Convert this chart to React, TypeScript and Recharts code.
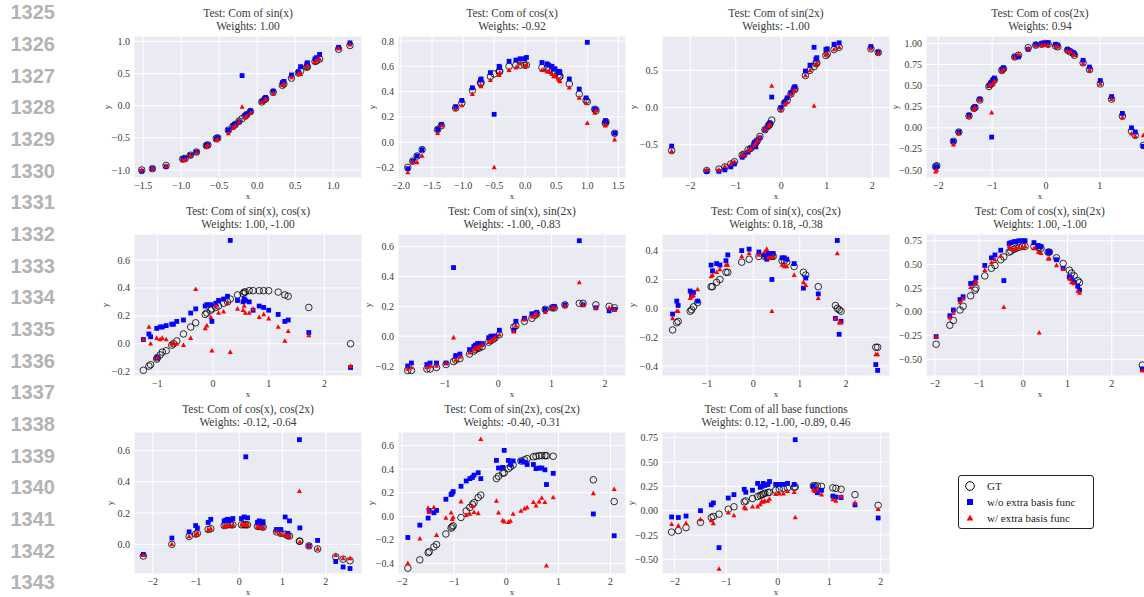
import React from 'react';
import { ScatterChart, Scatter, XAxis, YAxis, CartesianGrid } from 'recharts';

// ---- Com of sin(x)
const p1x = [-1.52, -1.38, -1.2, -0.98, -0.95, -0.88, -0.8, -0.67, -0.65, -0.54, -0.52, -0.38, -0.32, -0.29, -0.24, -0.2, -0.16, -0.14, -0.09, 0.06, 0.1, 0.11, 0.21, 0.33, 0.35, 0.45, 0.54, 0.57, 0.65, 0.66, 0.76, 0.78, 0.82, 1.07, 1.22];
const p1gt = [-1.0, -0.98, -0.93, -0.83, -0.82, -0.77, -0.72, -0.62, -0.61, -0.51, -0.5, -0.38, -0.32, -0.29, -0.24, -0.2, -0.16, -0.14, -0.09, 0.06, 0.1, 0.11, 0.21, 0.32, 0.34, 0.43, 0.51, 0.54, 0.6, 0.61, 0.69, 0.7, 0.73, 0.88, 0.94];
const p1wo = [-1.02, -0.98, -0.95, -0.83, -0.82, -0.77, -0.72, -0.62, -0.61, -0.52, -0.5, -0.38, -0.31, -0.29, -0.25, 0.47, -0.15, -0.13, -0.08, 0.07, 0.11, 0.13, 0.23, 0.36, 0.38, 0.48, 0.53, 0.61, 0.65, 0.67, 0.73, 0.75, 0.8, 0.91, 0.98];
const p1w = [-1.0, -0.98, -0.94, -0.85, -0.84, -0.78, -0.73, -0.64, -0.62, -0.54, -0.52, -0.43, -0.34, -0.31, -0.25, -0.02, -0.18, -0.16, -0.11, 0.05, 0.09, 0.1, 0.19, 0.32, 0.34, 0.44, 0.5, 0.49, 0.6, 0.62, 0.68, 0.71, 0.73, 0.89, 0.95];

// ---- Com of cos(x)
const p2x = [-1.89, -1.81, -1.74, -1.66, -1.41, -1.35, -1.12, -1.02, -0.85, -0.72, -0.71, -0.56, -0.5, -0.42, -0.41, -0.26, -0.15, -0.08, -0.01, 0.02, 0.27, 0.35, 0.38, 0.43, 0.46, 0.48, 0.53, 0.55, 0.56, 0.71, 0.87, 0.98, 1.0, 1.12, 1.14, 1.29, 1.3, 1.44];
const p2gt = [-0.2, -0.15, -0.11, -0.06, 0.1, 0.13, 0.27, 0.31, 0.41, 0.47, 0.47, 0.52, 0.54, 0.56, 0.56, 0.6, 0.61, 0.61, 0.61, 0.61, 0.59, 0.58, 0.57, 0.56, 0.55, 0.54, 0.53, 0.52, 0.52, 0.46, 0.38, 0.33, 0.32, 0.26, 0.25, 0.15, 0.16, 0.07];
const p2wo = [-0.21, -0.15, -0.11, -0.06, 0.1, 0.14, 0.28, 0.33, 0.43, 0.49, 0.5, 0.55, 0.22, 0.6, 0.59, 0.64, 0.65, 0.66, 0.66, 0.67, 0.63, 0.62, 0.61, 0.6, 0.58, 0.58, 0.56, 0.56, 0.55, 0.5, 0.42, 0.35, 0.79, 0.26, 0.26, 0.17, 0.16, 0.07];
const p2w = [-0.24, -0.16, -0.16, -0.11, 0.07, 0.13, 0.26, 0.29, 0.38, 0.45, 0.44, 0.49, -0.2, 0.53, 0.55, 0.57, 0.59, 0.62, 0.6, 0.61, 0.57, 0.56, 0.56, 0.54, 0.52, 0.52, 0.5, 0.49, 0.48, 0.43, 0.35, 0.31, 0.15, 0.23, 0.25, 0.13, 0.14, 0.02];

// ---- Com of sin(2x)
const p3x = [-2.41, -1.64, -1.37, -1.24, -1.11, -1.03, -0.86, -0.82, -0.73, -0.67, -0.59, -0.56, -0.53, -0.47, -0.36, -0.29, -0.26, -0.25, -0.21, -0.01, 0.07, 0.13, 0.21, 0.28, 0.3, 0.53, 0.63, 0.72, 0.76, 0.78, 0.98, 1.01, 1.16, 1.27, 1.97, 2.13];
const p3gt = [-0.58, -0.85, -0.83, -0.8, -0.76, -0.73, -0.64, -0.63, -0.57, -0.55, -0.49, -0.47, -0.45, -0.39, -0.3, -0.25, -0.23, -0.22, -0.17, -0.02, 0.06, 0.1, 0.18, 0.24, 0.25, 0.43, 0.5, 0.55, 0.59, 0.6, 0.7, 0.72, 0.78, 0.81, 0.79, 0.74];
const p3wo = [-0.52, -0.86, -0.86, -0.84, -0.8, -0.76, -0.67, -0.64, -0.6, -0.55, -0.47, -0.53, -0.45, -0.41, -0.3, -0.26, -0.22, -0.21, 0.14, 0.0, 0.07, 0.13, 0.2, 0.27, 0.28, 0.49, 0.57, 0.81, 0.65, 0.67, 0.78, 0.79, 0.85, 0.87, 0.82, 0.74];
const p3w = [-0.59, -0.84, -0.84, -0.79, -0.76, -0.73, -0.65, -0.64, -0.58, -0.56, -0.51, -0.48, -0.45, -0.4, -0.3, -0.26, -0.24, -0.23, 0.29, -0.04, 0.04, 0.07, 0.17, 0.23, 0.22, 0.43, 0.5, 0.02, 0.58, 0.59, 0.71, 0.72, 0.78, 0.81, 0.79, 0.73];

// ---- Com of cos(2x)
const p4x = [-2.05, -2.03, -1.72, -1.62, -1.43, -1.34, -1.32, -1.23, -1.06, -1.02, -1.01, -0.98, -0.96, -0.82, -0.79, -0.58, -0.51, -0.33, -0.19, -0.08, -0.02, 0.04, 0.18, 0.22, 0.4, 0.45, 0.51, 0.53, 0.69, 0.81, 1.01, 1.22, 1.42, 1.59, 1.66, 1.81];
const p4gt = [-0.46, -0.45, -0.16, -0.05, 0.14, 0.23, 0.24, 0.33, 0.49, 0.52, 0.53, 0.56, 0.57, 0.68, 0.7, 0.84, 0.86, 0.95, 0.98, 0.99, 1.0, 0.99, 0.97, 0.96, 0.92, 0.9, 0.88, 0.86, 0.77, 0.69, 0.52, 0.34, 0.14, -0.04, -0.09, -0.21];
const p4wo = [-0.47, -0.46, -0.16, -0.05, 0.15, 0.23, 0.25, 0.34, 0.5, 0.53, -0.11, 0.57, 0.59, 0.69, 0.71, 0.84, 0.84, 0.93, 0.99, 1.0, 1.0, 1.01, 0.99, 0.98, 0.93, 0.91, 0.89, 0.87, 0.8, 0.72, 0.56, 0.37, 0.17, 0.0, -0.05, -0.22];
const p4w = [-0.52, -0.5, -0.2, -0.07, 0.13, 0.22, 0.24, 0.33, 0.5, 0.51, 0.18, 0.52, 0.55, 0.67, 0.69, 0.83, 0.87, 0.94, 0.97, 0.98, 0.98, 0.98, 0.96, 0.96, 0.91, 0.9, 0.86, 0.86, 0.76, 0.68, 0.52, 0.34, 0.12, -0.07, -0.1, -0.09];

// ---- Com of sin(x), cos(x)
const p5x = [-1.25, -1.15, -1.12, -1.01, -1.0, -0.95, -0.91, -0.84, -0.74, -0.71, -0.65, -0.53, -0.4, -0.31, -0.14, -0.11, -0.04, -0.02, 0.05, 0.1, 0.19, 0.26, 0.31, 0.44, 0.54, 0.56, 0.58, 0.65, 0.72, 0.83, 0.91, 1.0, 1.17, 1.29, 1.35, 1.72, 2.47];
const p5gt = [-0.19, -0.16, -0.15, -0.11, -0.1, -0.08, -0.06, -0.05, -0.01, 0.0, 0.02, 0.07, 0.12, 0.15, 0.21, 0.22, 0.24, 0.25, 0.26, 0.27, 0.29, 0.3, 0.32, 0.35, 0.36, 0.37, 0.37, 0.38, 0.38, 0.38, 0.38, 0.38, 0.37, 0.35, 0.34, 0.26, 0.0];
const p5wo = [0.03, 0.07, 0.05, 0.11, -0.1, 0.12, 0.12, 0.13, 0.14, 0.14, 0.16, 0.17, 0.22, 0.25, 0.27, 0.28, 0.28, 0.16, 0.29, 0.31, 0.32, 0.34, 0.74, 0.31, 0.3, 0.32, 0.31, 0.3, 0.24, 0.27, 0.26, 0.24, 0.21, 0.16, 0.17, 0.08, -0.17];
const p5w = [0.03, 0.12, 0.0, 0.04, -0.1, 0.03, 0.04, 0.03, 0.0, 0.0, 0.0, -0.01, 0.04, 0.39, 0.11, 0.13, 0.19, -0.05, 0.27, 0.22, 0.23, 0.29, -0.06, 0.25, 0.24, 0.27, 0.22, 0.22, 0.25, 0.19, 0.21, 0.18, 0.12, 0.02, 0.09, 0.06, -0.16];

// ---- Com of sin(x), sin(2x)
const p6x = [-1.7, -1.63, -1.34, -1.28, -1.16, -0.98, -0.84, -0.8, -0.72, -0.54, -0.46, -0.43, -0.39, -0.36, -0.3, -0.18, -0.14, -0.09, -0.06, 0.02, 0.29, 0.33, 0.49, 0.63, 0.69, 0.72, 0.88, 1.01, 1.05, 1.25, 1.52, 1.59, 1.83, 2.08, 2.18];
const p6gt = [-0.23, -0.23, -0.22, -0.22, -0.21, -0.19, -0.17, -0.16, -0.15, -0.12, -0.1, -0.09, -0.08, -0.08, -0.07, -0.04, -0.03, -0.02, -0.01, 0.01, 0.06, 0.07, 0.1, 0.12, 0.14, 0.15, 0.18, 0.19, 0.19, 0.21, 0.22, 0.22, 0.21, 0.2, 0.19];
const p6wo = [-0.2, -0.18, -0.19, -0.18, -0.18, -0.18, 0.46, -0.13, -0.12, -0.09, -0.07, -0.06, -0.05, -0.05, -0.05, -0.01, 0.0, 0.0, 0.0, 0.04, 0.04, 0.1, 0.12, 0.15, 0.15, 0.16, 0.18, 0.19, 0.2, 0.21, 0.64, 0.21, 0.19, 0.17, 0.18];
const p6w = [-0.22, -0.21, -0.21, -0.2, -0.2, -0.18, -0.01, -0.16, -0.14, -0.11, -0.09, -0.08, -0.08, -0.07, -0.06, -0.04, -0.03, -0.02, -0.01, 0.01, 0.03, 0.07, 0.11, 0.13, 0.14, 0.15, 0.16, 0.19, 0.19, 0.2, 0.36, 0.21, 0.19, 0.19, 0.18];

// ---- Com of sin(x), cos(2x)
const p7x = [-1.74, -1.65, -1.62, -1.36, -1.33, -1.29, -1.2, -0.91, -0.88, -0.79, -0.72, -0.59, -0.55, -0.25, -0.09, 0.12, 0.24, 0.29, 0.32, 0.37, 0.4, 0.43, 0.62, 0.67, 0.72, 0.88, 1.08, 1.13, 1.4, 1.77, 1.81, 1.85, 1.89, 2.64, 2.68];
const p7gt = [-0.15, -0.1, -0.09, -0.02, -0.01, 0.01, 0.04, 0.15, 0.15, 0.18, 0.2, 0.25, 0.25, 0.32, 0.34, 0.36, 0.36, 0.36, 0.36, 0.36, 0.36, 0.36, 0.33, 0.33, 0.32, 0.29, 0.25, 0.23, 0.15, 0.02, 0.0, -0.01, -0.02, -0.27, -0.27];
const p7wo = [-0.04, 0.05, 0.02, 0.12, 0.09, 0.11, 0.05, 0.3, 0.26, 0.31, 0.3, 0.33, 0.37, 0.4, 0.41, 0.39, 0.37, 0.34, 0.38, 0.38, 0.2, 0.38, 0.35, 0.35, 0.34, 0.31, 0.14, 0.21, 0.1, -0.07, 0.47, -0.18, -0.09, -0.39, -0.43];
const p7w = [-0.07, -0.02, -0.02, 0.07, 0.08, 0.09, 0.13, 0.22, 0.23, 0.25, 0.27, 0.3, 0.3, 0.36, 0.38, 0.37, 0.39, 0.41, 0.35, 0.35, -0.02, 0.36, 0.3, 0.29, 0.29, 0.23, 0.18, 0.16, 0.07, -0.07, 0.38, -0.1, -0.1, -0.32, -0.32];

// ---- Com of cos(x), sin(2x)
const p8x = [-1.97, -1.66, -1.58, -1.43, -1.36, -1.19, -1.09, -1.07, -0.87, -0.72, -0.64, -0.51, -0.44, -0.32, -0.28, -0.21, -0.17, -0.1, -0.02, 0.04, 0.24, 0.34, 0.36, 0.4, 0.56, 0.59, 0.75, 0.9, 1.04, 1.09, 1.15, 1.23, 1.27, 2.69];
const p8gt = [-0.34, -0.14, -0.09, 0.02, 0.06, 0.17, 0.23, 0.25, 0.38, 0.46, 0.49, 0.55, 0.58, 0.63, 0.64, 0.66, 0.67, 0.68, 0.69, 0.69, 0.69, 0.68, 0.68, 0.67, 0.63, 0.63, 0.57, 0.51, 0.44, 0.41, 0.38, 0.33, 0.31, -0.56];
const p8wo = [-0.26, -0.04, 0.02, 0.13, 0.16, 0.3, 0.31, 0.36, 0.49, 0.57, 0.6, 0.65, 0.33, 0.72, 0.73, 0.74, 0.74, 0.75, 0.75, 0.75, 0.73, 0.7, 0.69, 0.69, 0.63, 0.63, 0.55, 0.46, 0.37, 0.35, 0.31, 0.27, 0.23, -0.6];
const p8w = [-0.26, -0.06, -0.01, 0.1, 0.14, 0.26, 0.3, 0.32, 0.44, 0.52, 0.55, 0.59, 0.05, 0.69, 0.66, 0.66, 0.67, 0.68, 0.68, 0.69, 0.67, 0.63, -0.22, 0.62, 0.56, 0.56, 0.49, 0.45, 0.35, 0.31, 0.3, 0.22, 0.2, -0.62];

// ---- Com of cos(x), cos(2x)
const p9x = [-2.22, -1.56, -1.16, -1.01, -0.97, -0.72, -0.66, -0.35, -0.31, -0.27, -0.2, -0.15, 0.05, 0.11, 0.15, 0.19, 0.42, 0.46, 0.52, 0.55, 0.86, 0.96, 1.06, 1.12, 1.16, 1.39, 1.4, 1.61, 1.81, 2.23, 2.4, 2.56];
const p9gt = [-0.075, 0.0, 0.05, 0.065, 0.07, 0.095, 0.1, 0.12, 0.125, 0.125, 0.125, 0.125, 0.125, 0.125, 0.125, 0.125, 0.115, 0.115, 0.113, 0.11, 0.08, 0.07, 0.065, 0.055, 0.053, 0.02, 0.02, -0.01, -0.03, -0.08, -0.095, -0.105];
const p9wo = [-0.065, 0.04, 0.08, 0.12, 0.105, 0.14, 0.16, 0.15, 0.155, 0.16, 0.155, 0.165, 0.165, 0.175, 0.56, 0.17, 0.14, 0.15, 0.135, 0.145, 0.095, 0.095, 0.175, 0.07, 0.15, 0.67, 0.105, -0.01, 0.025, -0.11, -0.145, -0.155];
const p9w = [-0.07, 0.0, 0.05, 0.06, 0.07, 0.09, 0.1, 0.115, 0.115, 0.12, 0.12, 0.12, 0.125, 0.125, 0.125, 0.12, 0.11, 0.11, 0.105, 0.105, 0.08, 0.065, 0.06, 0.055, 0.05, 0.34, 0.015, -0.01, -0.03, -0.07, -0.09, -0.09];

// ---- Com of sin(2x), cos(2x)
const p10x = [-1.89, -1.66, -1.5, -1.48, -1.39, -1.34, -1.16, -1.06, -1.04, -1.02, -0.87, -0.77, -0.7, -0.65, -0.62, -0.54, -0.49, -0.19, -0.15, -0.07, -0.04, 0.04, 0.08, 0.13, 0.28, 0.35, 0.4, 0.52, 0.57, 0.63, 0.68, 0.74, 0.77, 0.9, 1.67, 2.07];
const p10gt = [-0.44, -0.37, -0.31, -0.3, -0.26, -0.24, -0.15, -0.1, -0.09, -0.08, -0.01, 0.045, 0.075, 0.1, 0.115, 0.16, 0.18, 0.32, 0.34, 0.365, 0.37, 0.405, 0.42, 0.435, 0.47, 0.48, 0.49, 0.505, 0.51, 0.515, 0.515, 0.515, 0.515, 0.51, 0.31, 0.125];
const p10wo = [-0.18, -0.075, -0.015, 0.05, 0.03, 0.05, 0.145, 0.185, 0.195, 0.21, 0.255, 0.3, 0.32, 0.33, 0.35, 0.37, 0.32, 0.475, 0.41, 0.415, 0.56, 0.475, 0.44, 0.47, 0.47, 0.46, 0.44, 0.44, 0.405, 0.41, 0.41, 0.395, 0.27, 0.365, 0.02, -0.165];
const p10w = [-0.4, -0.19, 0.07, 0.035, 0.075, -0.16, -0.015, 0.03, -0.025, -0.01, 0.125, 0.01, 0.02, 0.085, 0.035, 0.025, 0.655, 0.13, 0.03, -0.035, -0.045, -0.05, -0.04, 0.02, 0.045, 0.065, 0.075, 0.12, 0.09, 0.125, 0.155, 0.12, -0.42, 0.16, 0.195, 0.23];

// ---- Com of all base functions
const p11x = [-2.06, -1.93, -1.78, -1.5, -1.29, -1.25, -1.14, -0.96, -0.85, -0.65, -0.62, -0.49, -0.39, -0.34, -0.31, -0.28, -0.25, -0.19, -0.16, -0.04, 0.03, 0.11, 0.19, 0.32, 0.34, 0.69, 0.72, 0.77, 0.85, 1.07, 1.13, 1.23, 1.5, 1.95];
const p11gt = [-0.22, -0.205, -0.175, -0.12, -0.07, -0.06, -0.035, 0.015, 0.04, 0.09, 0.1, 0.125, 0.145, 0.155, 0.165, 0.17, 0.18, 0.185, 0.19, 0.21, 0.22, 0.23, 0.235, 0.24, 0.245, 0.255, 0.255, 0.255, 0.25, 0.235, 0.23, 0.22, 0.165, 0.055];
const p11wo = [-0.065, -0.07, -0.055, 0.0, 0.06, 0.08, -0.38, 0.13, 0.165, 0.22, 0.19, 0.21, 0.28, 0.24, 0.25, 0.28, 0.26, 0.27, 0.3, 0.27, 0.27, 0.27, 0.28, 0.27, 0.73, 0.25, 0.22, 0.185, 0.21, 0.15, 0.14, 0.135, 0.06, -0.075];
const p11w = [-0.14, -0.155, -0.13, -0.09, -0.1, -0.13, -0.6, -0.02, -0.05, 0.03, 0.02, 0.04, 0.04, 0.065, 0.095, 0.09, 0.1, 0.1, 0.12, 0.17, 0.175, 0.175, 0.2, 0.19, -0.07, 0.215, 0.2, 0.225, 0.165, 0.115, 0.1, 0.145, 0.08, 0.015];

const lineNumbers = [1325, 1326, 1327, 1328, 1329, 1330, 1331, 1332, 1333, 1334, 1335, 1336, 1337, 1338, 1339, 1340, 1341, 1342, 1343];
const legendLabels = ['GT', 'w/o extra basis func', 'w/ extra basis func'];

const PW = 228;
const PH = 142;
const ML = 50;
const MT = 30;
const MB = 30;
const MR = 14;
const SERIF = '"Liberation Serif", "DejaVu Serif", serif';

const panels = [
  { title: 'Test: Com of sin(x)', weights: 'Weights: 1.00', x: p1x, gt: p1gt, wo: p1wo, w: p1w, left: 134, top: 36, xd: [-1.622, 1.378], yd: [-1.125, 1.087], xt: [-1.5, -1, -0.5, 0, 0.5, 1], yt: [-1, -0.5, 0, 0.5, 1], xf: 1, yf: 1, yl: 27 },
  { title: 'Test: Com of cos(x)', weights: 'Weights: -0.92', x: p2x, gt: p2gt, wo: p2wo, w: p2w, left: 398, top: 36, xd: [-2.048, 1.623], yd: [-0.284, 0.84], xt: [-2, -1.5, -1, -0.5, 0, 0.5, 1, 1.5], yt: [-0.2, 0, 0.2, 0.4, 0.6, 0.8], xf: 1, yf: 1, yl: 26 },
  { title: 'Test: Com of sin(2x)', weights: 'Weights: -1.00', x: p3x, gt: p3gt, wo: p3wo, w: p3w, left: 662, top: 36, xd: [-2.622, 2.389], yd: [-0.949, 0.962], xt: [-2, -1, 0, 1, 2], yt: [-0.5, 0, 0.5], xf: 0, yf: 1, yl: 29 },
  { title: 'Test: Com of cos(2x)', weights: 'Weights: 0.94', x: p4x, gt: p4gt, wo: p4wo, w: p4w, left: 926, top: 36, xd: [-2.23, 2.008], yd: [-0.595, 1.088], xt: [-2, -1, 0, 1], yt: [-0.5, -0.25, 0, 0.25, 0.5, 0.75, 1], xf: 0, yf: 2, yl: 31 },
  { title: 'Test: Com of sin(x), cos(x)', weights: 'Weights: 1.00, -1.00', x: p5x, gt: p5gt, wo: p5wo, w: p5w, left: 134, top: 234, xd: [-1.418, 2.675], yd: [-0.231, 0.786], xt: [-1, 0, 1, 2], yt: [-0.2, 0, 0.2, 0.4, 0.6], xf: 0, yf: 1, yl: 29 },
  { title: 'Test: Com of sin(x), sin(2x)', weights: 'Weights: -1.00, -0.83', x: p6x, gt: p6gt, wo: p6wo, w: p6w, left: 398, top: 234, xd: [-1.882, 2.396], yd: [-0.267, 0.685], xt: [-1, 0, 1, 2], yt: [-0.2, 0, 0.2, 0.4, 0.6], xf: 0, yf: 1, yl: 30 },
  { title: 'Test: Com of sin(x), cos(2x)', weights: 'Weights: 0.18, -0.38', x: p7x, gt: p7gt, wo: p7wo, w: p7w, left: 662, top: 234, xd: [-1.968, 2.946], yd: [-0.469, 0.515], xt: [-1, 0, 1, 2], yt: [-0.4, -0.2, 0, 0.2, 0.4], xf: 0, yf: 1, yl: 30 },
  { title: 'Test: Com of cos(x), sin(2x)', weights: 'Weights: 1.00, -1.00', x: p8x, gt: p8gt, wo: p8wo, w: p8w, left: 926, top: 234, xd: [-2.199, 2.954], yd: [-0.675, 0.821], xt: [-2, -1, 0, 1, 2], yt: [-0.5, -0.25, 0, 0.25, 0.5, 0.75], xf: 0, yf: 2, yl: 29 },
  { title: 'Test: Com of cos(x), cos(2x)', weights: 'Weights: -0.12, -0.64', x: p9x, gt: p9gt, wo: p9wo, w: p9w, left: 134, top: 432, xd: [-2.435, 2.837], yd: [-0.19, 0.719], xt: [-2, -1, 0, 1, 2], yt: [0, 0.2, 0.4, 0.6], xf: 0, yf: 1, yl: 24 },
  { title: 'Test: Com of sin(2x), cos(2x)', weights: 'Weights: -0.40, -0.31', x: p10x, gt: p10gt, wo: p10wo, w: p10w, left: 398, top: 432, xd: [-2.079, 2.297], yd: [-0.49, 0.716], xt: [-2, -1, 0, 1, 2], yt: [-0.4, -0.2, 0, 0.2, 0.4, 0.6], xf: 0, yf: 1, yl: 27 },
  { title: 'Test: Com of all base functions', weights: 'Weights: 0.12, -1.00, -0.89, 0.46', x: p11x, gt: p11gt, wo: p11wo, w: p11w, left: 662, top: 432, xd: [-2.247, 2.18], yd: [-0.651, 0.809], xt: [-2, -1, 0, 1, 2], yt: [-0.5, -0.25, 0, 0.25, 0.5, 0.75], xf: 0, yf: 2, yl: 31 },
];

const toPoints = (xs: number[], ys: number[]) => xs.map((x, i) => ({ x, y: ys[i] }));
const fmt = (d: number) => (v: number) => v.toFixed(d).replace('-', '\u2212');

const GtShape = (p: any) => <circle cx={p.cx} cy={p.cy} r={3.3} fill="none" stroke="#000" strokeWidth={0.8} />;
const WoShape = (p: any) => <rect x={p.cx - 2.4} y={p.cy - 2.4} width={4.8} height={4.8} fill="#0000ff" />;
const WShape = (p: any) => (
  <polygon points={`${p.cx},${p.cy - 2.8} ${p.cx + 2.5},${p.cy + 1.8} ${p.cx - 2.5},${p.cy + 1.8}`} fill="#ff0000" />
);

const tickStyle = { fill: '#3a3a3a', fontSize: 10, fontFamily: SERIF };

const Panel = ({ p }: { p: any }) => (
  <div style={{ position: 'absolute', left: p.left - ML, top: p.top - MT }}>
    <ScatterChart width={PW + ML + MR} height={PH + MT + MB} margin={{ top: MT, right: MR, bottom: 0, left: 0 }}>
      <CartesianGrid fill="#eaeaf2" fillOpacity={1} stroke="#ffffff" strokeWidth={1} />
      <XAxis
        type="number"
        dataKey="x"
        domain={p.xd}
        ticks={p.xt}
        allowDataOverflow
        interval={0}
        axisLine={false}
        tickLine={false}
        tickSize={3}
        tickMargin={1}
        height={MB}
        tick={tickStyle}
        tickFormatter={fmt(p.xf)}
      />
      <YAxis
        type="number"
        dataKey="y"
        domain={p.yd}
        ticks={p.yt}
        allowDataOverflow
        interval={0}
        axisLine={false}
        tickLine={false}
        tickSize={2}
        tickMargin={2}
        width={ML}
        tick={tickStyle}
        tickFormatter={fmt(p.yf)}
      />
      <Scatter data={toPoints(p.x, p.gt)} shape={GtShape} isAnimationActive={false} />
      <Scatter data={toPoints(p.x, p.wo)} shape={WoShape} isAnimationActive={false} />
      <Scatter data={toPoints(p.x, p.w)} shape={WShape} isAnimationActive={false} />
    </ScatterChart>
    <div
      style={{
        position: 'absolute', left: ML - 40, width: PW + 80, top: MT - 29, textAlign: 'center',
        fontFamily: SERIF, fontSize: 11.5, lineHeight: '13px', color: '#3a3a3a', whiteSpace: 'nowrap',
      }}
    >
      {p.title}
      <br />
      {p.weights.replace(/-/g, '-')}
    </div>
    <div
      style={{
        position: 'absolute', left: ML, width: PW, top: MT + PH + 13, textAlign: 'center',
        fontFamily: SERIF, fontSize: 9, lineHeight: '10px', color: '#3a3a3a',
      }}
    >
      x
    </div>
    <div
      style={{
        position: 'absolute', left: ML - p.yl - 5, top: MT + PH / 2 - 5, width: 10, height: 10, textAlign: 'center',
        fontFamily: SERIF, fontSize: 9, lineHeight: '10px', color: '#3a3a3a', transform: 'rotate(-90deg)',
      }}
    >
      y
    </div>
  </div>
);

const LegendBox = () => (
  <div
    style={{
      position: 'absolute', left: 958, top: 475, width: 134, height: 52, border: '1px solid #222',
      borderRadius: 3, background: '#fff', fontFamily: SERIF, fontSize: 11, color: '#222',
    }}
  >
    {legendLabels.map((label, i) => (
      <div key={label} style={{ position: 'absolute', left: 0, top: 3 + i * 16, height: 14, display: 'flex', alignItems: 'center' }}>
        <svg width={22} height={14} style={{ marginLeft: 2 }}>
          {i === 0 && <circle cx={9} cy={7} r={4.3} fill="none" stroke="#000" strokeWidth={1} />}
          {i === 1 && <rect x={6} y={4} width={6} height={6} fill="#0000ff" />}
          {i === 2 && <polygon points="9,3.5 12.3,9.5 5.7,9.5" fill="#ff0000" />}
        </svg>
        <span style={{ marginLeft: 4, whiteSpace: 'nowrap' }}>{label}</span>
      </div>
    ))}
  </div>
);

const App = () => (
  <div style={{ position: 'absolute', left: 0, top: 0, width: 1144, height: 597, overflow: 'hidden', background: '#fff' }}>
    {lineNumbers.map((n, i) => (
      <div
        key={n}
        style={{
          position: 'absolute', left: 0, width: 55, top: 12.3 + i * 31.67 - 11, height: 22, lineHeight: '22px',
          textAlign: 'right', fontFamily: '"Liberation Sans", Arial, sans-serif', fontWeight: 'bold', fontSize: 20, color: '#b3b3b3',
        }}
      >
        {n}
      </div>
    ))}
    {panels.map((p) => (
      <Panel key={p.title} p={p} />
    ))}
    <LegendBox />
  </div>
);

export default App;
